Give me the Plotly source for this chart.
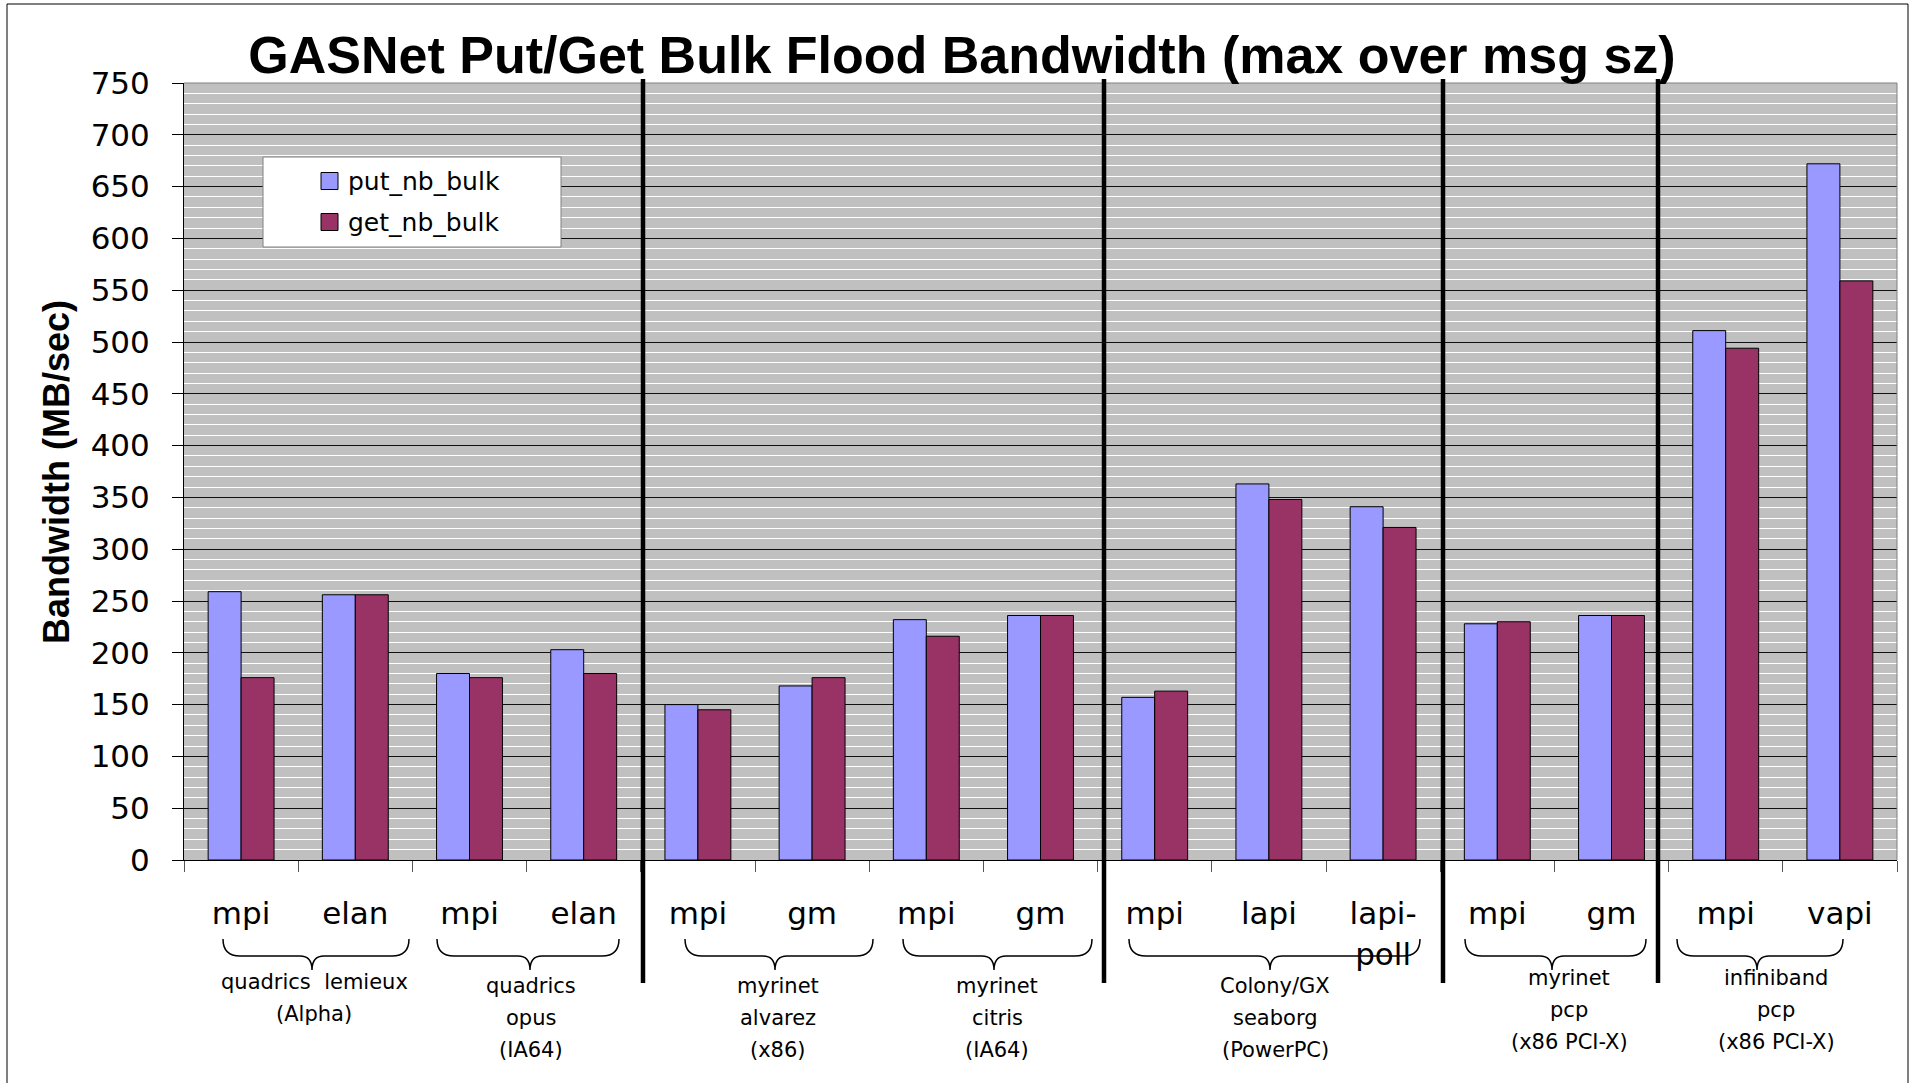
import plotly.graph_objects as go

# ---------------------------------------------------------------- data
series_names = ["put_nb_bulk", "get_nb_bulk"]
conduits = ["mpi", "elan", "mpi", "elan", "mpi", "gm", "mpi", "gm",
            "mpi", "lapi", "lapi-poll", "mpi", "gm", "mpi", "vapi"]
put_nb_bulk = [259, 256, 180, 203, 150, 168, 232, 236, 157, 363, 341, 228, 236, 511, 672]
get_nb_bulk = [176, 256, 176, 180, 145, 176, 216, 236, 163, 348, 321, 230, 236, 494, 559]
systems = [
    ["quadrics  lemieux", "(Alpha)"],
    ["quadrics", "opus", "(IA64)"],
    ["myrinet", "alvarez", "(x86)"],
    ["myrinet", "citris", "(IA64)"],
    ["Colony/GX", "seaborg", "(PowerPC)"],
    ["myrinet", "pcp", "(x86 PCI-X)"],
    ["infiniband", "pcp", "(x86 PCI-X)"],
]
y_tick_values = [0, 50, 100, 150, 200, 250, 300, 350, 400, 450, 500, 550, 600, 650, 700, 750]

# ---------------------------------------------------------------- geometry
W, H = 1915, 1083
PL, PR, PT, PB = 184, 1897, 83, 860
N = len(conduits)
CAT_W = (PR - PL) / N


def xd(px):
    """page pixel -> x data (category index) units"""
    return (px - PL) / CAT_W - 0.5


def xp(px):
    return (px - PL) / (PR - PL)


def yp(py):
    return (PB - py) / (PB - PT)


TXT = "DejaVu Sans"
BOLD = "Liberation Sans"
PUT_COLOR = "#9999FF"
GET_COLOR = "#993366"

fig = go.Figure()
x_idx = list(range(N))
fig.add_bar(x=x_idx, y=put_nb_bulk, name=series_names[0],
            marker=dict(color=PUT_COLOR, line=dict(color="black", width=1)))
fig.add_bar(x=x_idx, y=get_nb_bulk, name=series_names[1],
            marker=dict(color=GET_COLOR, line=dict(color="black", width=1)))

tick_text = [c.replace("-", "-<br>") for c in conduits]

fig.update_layout(
    width=W, height=H, autosize=False,
    margin=dict(l=PL, r=W - PR, t=PT, b=H - PB, pad=0),
    paper_bgcolor="white", plot_bgcolor="#C0C0C0",
    showlegend=False,
    barmode="group", bargap=0.423, bargroupgap=0,
    title=dict(text="GASNet Put/Get Bulk Flood Bandwidth (max over msg sz)",
               font=dict(family=BOLD, size=52, color="black", weight="bold"),
               xref="paper", x=xp(962), xanchor="center",
               yref="container", y=1 - 55 / H, yanchor="middle"),
    xaxis=dict(range=[-0.5, N - 0.5], tickmode="array", tickvals=x_idx, ticktext=tick_text,
               ticks="", showgrid=False, zeroline=False,
               showline=True, linecolor="black", linewidth=1,
               tickfont=dict(family=TXT, size=31, color="black"),
               ticklabelstandoff=26,
               minor=dict(tickvals=[i - 0.5 for i in range(N + 1)], ticks="outside",
                          ticklen=11, tickcolor="#555555", tickwidth=1, showgrid=False)),
    yaxis=dict(range=[0, 750], tickmode="array", tickvals=y_tick_values,
               ticks="outside", ticklen=11, tickcolor="black", tickwidth=1,
               showline=True, linecolor="black", linewidth=1, zeroline=False,
               showgrid=True, gridcolor="#111111", gridwidth=1,
               tickfont=dict(family=TXT, size=31, color="black"),
               ticklabelstandoff=16,
               minor=dict(tick0=0, dtick=10, showgrid=True, gridcolor="white",
                          gridwidth=1, ticks="")),
)

shapes = []
# outer chart frame
shapes.append(dict(type="rect", xref="paper", yref="paper",
                   x0=xp(7), x1=xp(1908), y0=yp(1100), y1=yp(4),
                   line=dict(color="black", width=1), layer="below"))
# grey top / right edge of the plot area
shapes.append(dict(type="line", xref="paper", yref="paper", x0=0, x1=1, y0=1, y1=1,
                   line=dict(color="#808080", width=1)))
shapes.append(dict(type="line", xref="paper", yref="paper", x0=1, x1=1, y0=0, y1=1,
                   line=dict(color="#808080", width=1)))

# heavy dividers between interconnect families
for px in [643, 1104, 1443, 1658]:
    shapes.append(dict(type="line", xref="x", yref="paper",
                       x0=xd(px), x1=xd(px), y0=yp(983), y1=yp(79),
                       line=dict(color="black", width=4.5)))

# curly braces grouping conduits per machine: (left, tip, right) in page px
brace_px = [(223, 312, 409), (437, 530, 619), (685, 775, 873), (903, 994, 1092),
            (1129, 1270, 1420), (1465, 1552, 1646), (1677, 1757, 1843)]
y_top, y_line, y_tip = yp(939), yp(956), yp(970)
r_end, r_tip = 17 / CAT_W, 12 / CAT_W
for l, m, r in brace_px:
    xl, xm, xr = xd(l), xd(m), xd(r)
    path = (f"M{xl},{y_top} Q{xl},{y_line} {xl + r_end},{y_line} "
            f"L{xm - r_tip},{y_line} Q{xm},{y_line} {xm},{y_tip} "
            f"Q{xm},{y_line} {xm + r_tip},{y_line} "
            f"L{xr - r_end},{y_line} Q{xr},{y_line} {xr},{y_top}")
    shapes.append(dict(type="path", xref="x", yref="paper", path=path,
                       line=dict(color="black", width=1.5)))

# legend box
shapes.append(dict(type="rect", xref="paper", yref="paper",
                   x0=xp(263), x1=xp(561), y0=yp(247), y1=yp(157),
                   fillcolor="white", line=dict(color="#808080", width=1)))
legend_rows = [181, 222]
for row, color in zip(legend_rows, [PUT_COLOR, GET_COLOR]):
    shapes.append(dict(type="rect", xref="paper", yref="paper",
                       x0=xp(321), x1=xp(338), y0=yp(row + 8.5), y1=yp(row - 8.5),
                       fillcolor=color, line=dict(color="black", width=1)))

annotations = []
for row, name in zip(legend_rows, series_names):
    annotations.append(dict(text=name, xref="paper", yref="paper", x=xp(346), y=yp(row),
                            xanchor="left", yanchor="middle", showarrow=False,
                            font=dict(family=TXT, size=25, color="black")))

# machine / architecture captions under each brace
caption_x = [314, 531, 778, 997, 1275, 1569, 1776]
caption_y0 = [982, 986, 986, 986, 986, 978, 978]
LINE_STEP = 32
for lines, cx, cy in zip(systems, caption_x, caption_y0):
    for k, line in enumerate(lines):
        annotations.append(dict(text=line, xref="x", yref="paper", x=xd(cx),
                                y=yp(cy + k * LINE_STEP), xanchor="center", yanchor="middle",
                                showarrow=False,
                                font=dict(family=TXT, size=21, color="black")))

# y-axis title
annotations.append(dict(text="Bandwidth (MB/sec)", xref="paper", yref="paper",
                        x=xp(57), y=yp(472), xanchor="center", yanchor="middle",
                        textangle=-90, showarrow=False,
                        font=dict(family=BOLD, size=36, color="black", weight="bold")))

fig.update_layout(shapes=shapes, annotations=annotations)
fig.write_html("out.html")
